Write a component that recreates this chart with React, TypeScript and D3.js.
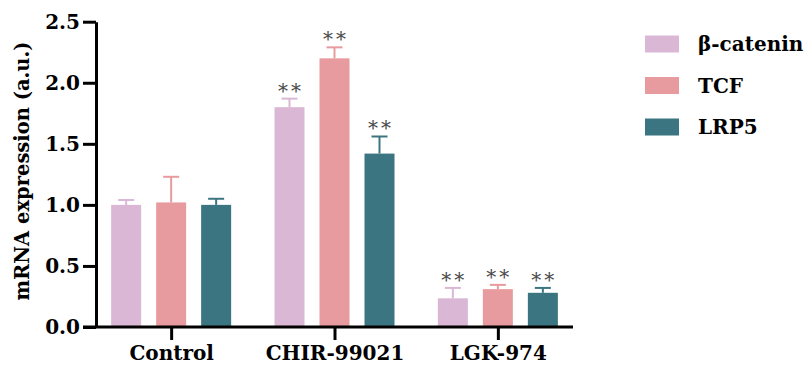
import { useRef, useEffect } from "react";
import * as d3 from "d3";

const groups = ["Control", "CHIR-99021", "LGK-974"];
const series = ["β-catenin", "TCF", "LRP5"];
const colors = ["#dab7d5", "#e89b9e", "#3b7581"];

// means per series, in group order
const means = [
  [1.0, 1.8, 0.235],
  [1.02, 2.2, 0.31],
  [1.0, 1.42, 0.28],
];
// upper error (mean + sd)
const errTops = [
  [1.04, 1.87, 0.32],
  [1.23, 2.29, 0.345],
  [1.05, 1.56, 0.32],
];
// significance marks
const marks = [
  ["", "**", "**"],
  ["", "**", "**"],
  ["", "**", "**"],
];
const yTicks = [0, 0.5, 1.0, 1.5, 2.0, 2.5];

const W = 808;
const H = 370;
const FONT = "'DejaVu Serif', serif";

export default function App() {
  const svgRef = useRef<SVGSVGElement | null>(null);

  useEffect(() => {
    const svg = d3.select(svgRef.current);
    svg.selectAll("*").remove();

    const axisX = 96;
    const y = d3.scaleLinear().domain([0, 2.5]).range([327, 21.7]);
    const x0 = d3.scalePoint<string>().domain(groups).range([axisX, 573]).padding(0.46);
    const x1 = d3
      .scaleBand<string>()
      .domain(series)
      .range([-67.5, 67.5])
      .paddingInner(1 / 3)
      .paddingOuter(1 / 6);

    // --- bars ---
    series.forEach((s, si) => {
      groups.forEach((g, gi) => {
        const bx = (x0(g) as number) + (x1(s) as number);
        const bw = x1.bandwidth();
        const cx = bx + bw / 2;
        const top = y(means[si][gi]);
        const et = y(errTops[si][gi]);
        svg
          .append("rect")
          .attr("x", bx)
          .attr("y", top)
          .attr("width", bw)
          .attr("height", y(0) - top)
          .attr("fill", colors[si]);
        // error bar (upper only)
        svg
          .append("line")
          .attr("x1", cx)
          .attr("x2", cx)
          .attr("y1", top)
          .attr("y2", et)
          .attr("stroke", colors[si])
          .attr("stroke-width", 2);
        svg
          .append("line")
          .attr("x1", cx - 8)
          .attr("x2", cx + 8)
          .attr("y1", et)
          .attr("y2", et)
          .attr("stroke", colors[si])
          .attr("stroke-width", 2);
        if (marks[si][gi]) {
          svg
            .append("text")
            .attr("x", cx + 1.5)
            .attr("y", et - 1)
            .attr("text-anchor", "middle")
            .style("font-family", FONT)
            .style("font-size", "20px")
            .attr("letter-spacing", 3)
            .attr("fill", "#4a4a4a")
            .text(marks[si][gi]);
        }
      });
    });

    // --- y axis ---
    const gy = svg
      .append("g")
      .attr("transform", `translate(${axisX},0)`)
      .call(
        d3
          .axisLeft(y)
          .tickValues(yTicks)
          .tickSize(13)
          .tickSizeOuter(0)
          .tickPadding(3)
          .tickFormat(d3.format(".1f"))
      );
    gy.attr("font-family", null).attr("font-size", null);
    gy.selectAll("path, line").attr("stroke", "#000").attr("stroke-width", 3);
    gy.selectAll("text")
      .style("font-family", FONT)
      .style("font-weight", "bold")
      .style("font-size", "20px")
      .attr("fill", "#000");

    // --- x axis ---
    const gx = svg
      .append("g")
      .attr("transform", `translate(0,${y(0)})`)
      .call(d3.axisBottom(x0).tickSize(13).tickSizeOuter(0).tickPadding(6));
    gx.attr("font-family", null).attr("font-size", null);
    gx.select(".domain").attr("d", `M${axisX - 13},0H573`);
    gx.selectAll("path, line").attr("stroke", "#000").attr("stroke-width", 3);
    gx.selectAll("text")
      .style("font-family", FONT)
      .style("font-weight", "bold")
      .style("font-size", "20px")
      .attr("fill", "#000");

    // --- y label ---
    svg
      .append("text")
      .attr("transform", `translate(29,171) rotate(-90)`)
      .attr("text-anchor", "middle")
      .style("font-family", FONT)
      .style("font-weight", "bold")
      .style("font-size", "19.5px")
      .text("mRNA expression (a.u.)");

    // --- legend ---
    const legY = d3.scalePoint<string>().domain(series).range([44, 127]);
    series.forEach((s, i) => {
      const cy = legY(s) as number;
      svg
        .append("rect")
        .attr("x", 645)
        .attr("y", cy - 8.5)
        .attr("width", 34)
        .attr("height", 17)
        .attr("fill", colors[i]);
      svg
        .append("text")
        .attr("x", 698)
        .attr("y", cy + 7)
        .style("font-family", FONT)
        .style("font-weight", "bold")
        .style("font-size", "20px")
        .text(s);
    });
  }, []);

  return (
    <svg
      ref={svgRef}
      width={W}
      height={H}
      style={{ position: "absolute", left: 0, top: 0, background: "#fff" }}
    />
  );
}
